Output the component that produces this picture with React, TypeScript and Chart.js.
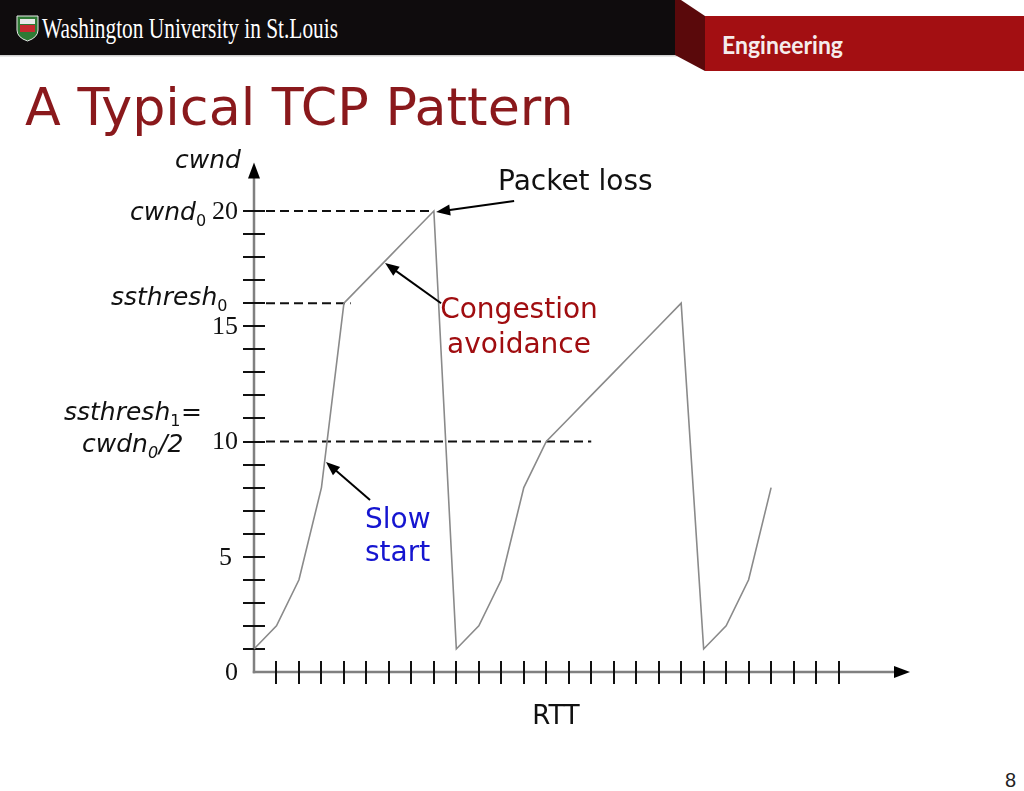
import React, { useEffect, useRef } from "react";
import { Chart, registerables } from "chart.js";

Chart.register(...registerables);

// ---- data ----
const rttSteps = [0, 1, 2, 3, 4, 5, 6, 7, 8, 9, 10, 11, 12, 13, 14, 15, 16, 17, 18, 19, 20, 21, 22, 23];
const cwndValues = [1, 2, 4, 8, 16, 17, 18, 19, 20, 1, 2, 4, 8, 10, 11, 12, 13, 14, 15, 16, 1, 2, 4, 8];
const yTickLabels = [0, 5, 10, 15, 20];
const yMinorTicks = [1, 2, 3, 4, 5, 6, 7, 8, 9, 10, 11, 12, 13, 14, 15, 16, 17, 18, 19, 20];
const xTicks = [1, 2, 3, 4, 5, 6, 7, 8, 9, 10, 11, 12, 13, 14, 15, 16, 17, 18, 19, 20, 21, 22, 23, 24, 25, 26];
const refLevels = [20, 16, 10];
const refEnds = [8, 4.3, 15];

// annotation arrows in data units: [tipX, tipY, tailX, tailY]
const annotationArrows = [
  [8.1, 19.96, 11.57, 20.43],
  [5.83, 17.74, 8.32, 16.0],
  [3.2, 9.11, 5.16, 7.46],
];

function arrow(ctx: CanvasRenderingContext2D, tx: number, ty: number, fx: number, fy: number, len = 14, half = 5.5) {
  const ang = Math.atan2(ty - fy, tx - fx);
  const bx = tx - Math.cos(ang) * len;
  const by = ty - Math.sin(ang) * len;
  ctx.beginPath();
  ctx.moveTo(fx, fy);
  ctx.lineTo(bx + Math.cos(ang) * 2, by + Math.sin(ang) * 2);
  ctx.stroke();
  ctx.beginPath();
  ctx.moveTo(tx, ty);
  ctx.lineTo(bx - Math.sin(ang) * half, by + Math.cos(ang) * half);
  ctx.lineTo(bx + Math.sin(ang) * half, by - Math.cos(ang) * half);
  ctx.closePath();
  ctx.fill();
}

function subText(
  ctx: CanvasRenderingContext2D,
  x: number,
  base: number,
  main: string,
  sub: string,
  subItalic: boolean,
  rest: string
) {
  ctx.textAlign = "left";
  ctx.textBaseline = "alphabetic";
  ctx.font = 'italic 25px "DejaVu Sans"';
  ctx.fillText(main, x, base);
  let cx = x + ctx.measureText(main).width;
  ctx.font = (subItalic ? "italic " : "") + '16px "DejaVu Sans"';
  ctx.fillText(sub, cx, base + 6);
  cx += ctx.measureText(sub).width;
  if (rest) {
    ctx.font = 'italic 25px "DejaVu Sans"';
    ctx.fillText(rest, cx + 1, base);
  }
}

const tcpDecor = {
  id: "tcpDecor",
  beforeDatasetsDraw(chart: any) {
    const { ctx, scales } = chart;
    const x = scales.x;
    const y = scales.y;
    const x0 = x.getPixelForValue(0);
    const y0 = y.getPixelForValue(0);
    ctx.save();
    // dashed reference lines
    ctx.strokeStyle = "#111";
    ctx.lineWidth = 2;
    ctx.setLineDash([9, 5]);
    refLevels.forEach((lv, i) => {
      const py = y.getPixelForValue(lv);
      ctx.beginPath();
      ctx.moveTo(x0 + 12, py);
      ctx.lineTo(x.getPixelForValue(refEnds[i]), py);
      ctx.stroke();
    });
    ctx.setLineDash([]);
    // axes
    ctx.strokeStyle = "#808080";
    ctx.lineWidth = 2.5;
    ctx.beginPath();
    ctx.moveTo(x0, y0 + 1.2);
    ctx.lineTo(x0, y.top + 14);
    ctx.stroke();
    ctx.beginPath();
    ctx.moveTo(x0 - 1.2, y0);
    ctx.lineTo(x.right - 8, y0);
    ctx.stroke();
    ctx.fillStyle = "#000";
    ctx.beginPath();
    ctx.moveTo(x0, y.top);
    ctx.lineTo(x0 - 6, y.top + 16);
    ctx.lineTo(x0 + 6, y.top + 16);
    ctx.closePath();
    ctx.fill();
    ctx.beginPath();
    ctx.moveTo(x.right + 4, y0);
    ctx.lineTo(x.right - 12, y0 - 6);
    ctx.lineTo(x.right - 12, y0 + 6);
    ctx.closePath();
    ctx.fill();
    // tick marks
    ctx.strokeStyle = "#111";
    ctx.lineWidth = 2;
    yMinorTicks.forEach((v) => {
      const py = Math.round(y.getPixelForValue(v));
      ctx.beginPath();
      ctx.moveTo(x0 - 11, py);
      ctx.lineTo(x0 + 11, py);
      ctx.stroke();
    });
    xTicks.forEach((v) => {
      const px = Math.round(x.getPixelForValue(v));
      ctx.beginPath();
      ctx.moveTo(px, y0 - 11);
      ctx.lineTo(px, y0 + 12);
      ctx.stroke();
    });
    // numeric tick labels
    ctx.fillStyle = "#111";
    ctx.font = '26px "Liberation Serif"';
    ctx.textAlign = "right";
    ctx.textBaseline = "middle";
    yTickLabels.forEach((v) => {
      const py = y.getPixelForValue(v);
      const right = v === 5 ? x0 - 22 : x0 - 16;
      ctx.fillText(String(v), right, py + 1);
    });
    ctx.restore();
  },
  afterDatasetsDraw(chart: any) {
    const { ctx, scales } = chart;
    const x = scales.x;
    const y = scales.y;
    ctx.save();
    ctx.strokeStyle = "#000";
    ctx.fillStyle = "#000";
    ctx.lineWidth = 2;
    annotationArrows.forEach((a) => {
      arrow(ctx, x.getPixelForValue(a[0]), y.getPixelForValue(a[1]), x.getPixelForValue(a[2]), y.getPixelForValue(a[3]));
    });

    // axis captions
    ctx.fillStyle = "#111";
    ctx.font = 'italic 25px "DejaVu Sans"';
    ctx.textAlign = "left";
    ctx.textBaseline = "alphabetic";
    ctx.fillText("cwnd", 175, 168);
    subText(ctx, 130, 220, "cwnd", "0", false, "");
    subText(ctx, 111, 305, "ssthresh", "0", false, "");
    subText(ctx, 64, 420, "ssthresh", "1", false, "");
    ctx.font = '25px "DejaVu Sans"';
    ctx.fillText("=", 181, 420);
    subText(ctx, 82, 452, "cwdn", "0", true, "/2");

    // annotations
    ctx.font = '28px "DejaVu Sans"';
    ctx.textAlign = "left";
    ctx.fillStyle = "#111";
    ctx.fillText("Packet loss", 498, 190);
    ctx.fillStyle = "#a00d10";
    ctx.textAlign = "center";
    ctx.fillText("Congestion", 519, 318);
    ctx.fillText("avoidance", 519, 353);
    ctx.fillStyle = "#1515d0";
    ctx.textAlign = "left";
    ctx.fillText("Slow", 365, 528);
    ctx.fillText("start", 365, 561);

    ctx.font = '26px "DejaVu Sans"';
    ctx.fillStyle = "#111";
    ctx.textAlign = "center";
    ctx.fillText("RTT", 556, 724);
    ctx.restore();
  },
};

function TcpChart() {
  const ref = useRef<HTMLCanvasElement | null>(null);
  useEffect(() => {
    if (!ref.current) return;
    const chart = new Chart(ref.current, {
      type: "line",
      data: {
        datasets: [
          {
            data: rttSteps.map((r, i) => ({ x: r, y: cwndValues[i] })),
            borderColor: "#8a8a8a",
            borderWidth: 1.6,
            pointRadius: 0,
            tension: 0,
            fill: false,
            clip: false as any,
          },
        ],
      },
      options: {
        animation: false,
        responsive: false,
        events: [],
        layout: { padding: { left: 254, right: 118, top: 162.6, bottom: 119 } },
        scales: {
          x: { type: "linear", min: 0, max: 29, display: false },
          y: { type: "linear", min: 0, max: 22.1, display: false },
        },
        plugins: { legend: { display: false }, tooltip: { enabled: false } },
      },
      plugins: [tcpDecor],
    });
    return () => chart.destroy();
  }, []);
  return <canvas ref={ref} width={1024} height={791} style={{ position: "absolute", left: 0, top: 0 }} />;
}

export default function App() {
  return (
    <div
      style={{
        position: "fixed",
        left: 0,
        top: 0,
        width: 1024,
        height: 791,
        background: "#fff",
        overflow: "hidden",
      }}
    >
      <svg width={1024} height={791} style={{ position: "absolute", left: 0, top: 0 }}>
        <rect x={0} y={0} width={677} height={55} fill="#0f0c0d" />
        <rect x={0} y={55} width={677} height={1.5} fill="#d0d0d0" />
        <polygon points="675,0 681,0 705,16 705,71 675,55" fill="#5a090b" />
        <rect x={705} y={16} width={319} height={55} fill="#a30f12" />
        <text
          x={722}
          y={53.5}
          fill="#f5ecec"
          fontFamily="Lato"
          fontWeight={700}
          fontSize={24}
          textLength={121}
          lengthAdjust="spacingAndGlyphs"
        >
          Engineering
        </text>
        <path d="M17,16 H38 V30 Q38,37.5 27.5,41 Q17,37.5 17,30 Z" fill="#2f7a35" stroke="#e8e8e8" strokeWidth={1} />
        <rect x={20} y={19} width={15} height={5} fill="#e9e9e9" />
        <rect x={20} y={25} width={15} height={7} fill="#c62a2f" />
        <text
          x={42}
          y={38}
          fill="#ffffff"
          fontFamily="Liberation Serif"
          fontSize={29}
          textLength={296}
          lengthAdjust="spacingAndGlyphs"
        >
          Washington University in St.Louis
        </text>
        <text x={25} y={125} fill="#8a191c" fontFamily="DejaVu Sans" fontSize={52.3}>
          A Typical TCP Pattern
        </text>
        <text x={1016} y={787} textAnchor="end" fill="#222" fontFamily="Liberation Sans" fontSize={20}>
          8
        </text>
      </svg>
      <TcpChart />
    </div>
  );
}
